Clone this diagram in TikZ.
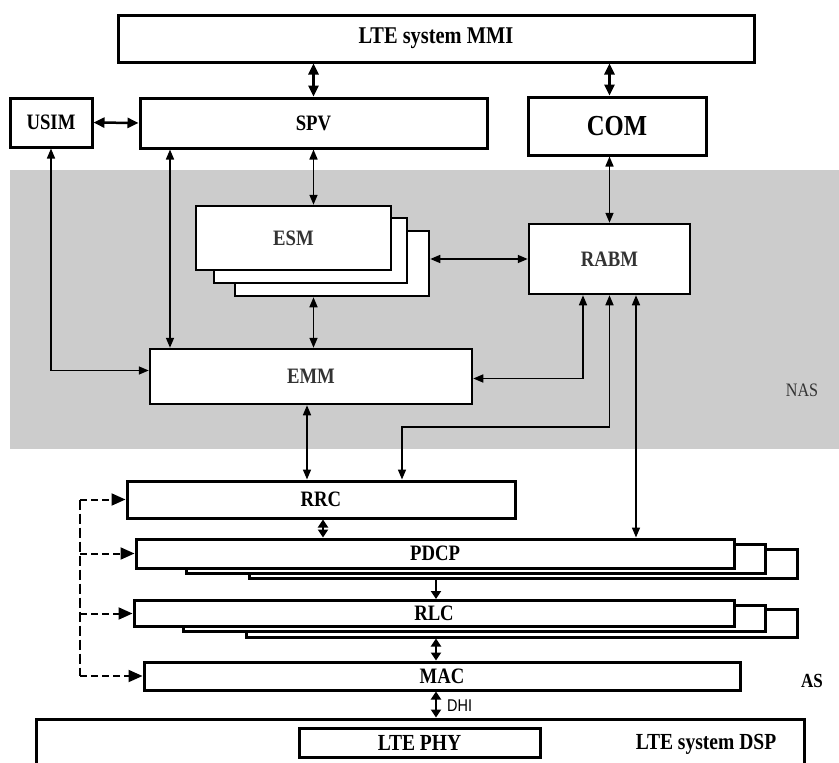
\documentclass[tikz,border=0pt]{standalone}
\usepackage{fontspec}
\setmainfont[FakeStretch=0.85]{Liberation Serif}
\setsansfont[FakeStretch=0.85]{Liberation Sans}
\usetikzlibrary{arrows.meta,calc}
\definecolor{nasgray}{RGB}{204,204,204}
\begin{document}
\begin{tikzpicture}[x=1pt,y=-1pt,
  blk/.style={draw, line width=3pt, fill=white, inner sep=0pt, font=\bfseries\fontsize{22}{25}\selectfont},
  nasblk/.style={blk, line width=2.5pt, text=black!80},
  thk/.style={line width=2.5pt, {Triangle[length=11pt,width=10pt]}-{Triangle[length=11pt,width=10pt]}},
  shortarr/.style={line width=2.5pt, {Triangle[length=8pt,width=10pt]}-{Triangle[length=8pt,width=10pt]}},
  onearr/.style={line width=2.5pt, -{Triangle[length=8pt,width=10pt]}},
  thn/.style={line width=1.6pt, {Triangle[length=10pt,width=8pt]}-{Triangle[length=10pt,width=8pt]}},
  dsh/.style={line width=2pt, dash pattern=on 7pt off 4pt},
  vdsh/.style={line width=1.8pt, dash pattern=on 10pt off 4pt},
  dsharr/.style={dsh, -{Triangle[length=14pt,width=12pt]}},
  lbl/.style={inner sep=0pt, font=\bfseries\fontsize{20}{23}\selectfont},
]
\useasboundingbox (0,0) rectangle (839,763);
\clip (0,0) rectangle (839,763);
% NAS band
\fill[nasgray] (10,170) rectangle (839,449);
\node[lbl, font=\fontsize{19}{22}\selectfont, text=black!80] (nas) at (802,390) {NAS};
\node[lbl] (as) at (812,681) {AS};

% top boxes
\node[blk, minimum width=636pt, minimum height=47pt, font=\bfseries\fontsize{24}{27}\selectfont] (mmi) at (436,38.5) {LTE system MMI};
\node[blk, minimum width=82pt, minimum height=49pt] (usim) at (51,122.5) {USIM};
\node[blk, minimum width=347pt, minimum height=50pt] (spv) at (313.5,123) {SPV};
\node[blk, minimum width=178pt, minimum height=58pt, font=\bfseries\fontsize{29}{32}\selectfont] (com) at (617,126) {COM};

% NAS boxes
\node[nasblk, minimum width=194pt, minimum height=65pt] (esm3) at (332,263.5) {};
\node[nasblk, minimum width=193pt, minimum height=65pt] (esm2) at (310.5,250.5) {};
\node[nasblk, minimum width=195pt, minimum height=64pt] (esm1) at (293.5,238) {ESM};
\node[nasblk, minimum width=161pt, minimum height=70pt] (rabm) at (609.5,259) {RABM};
\node[nasblk, minimum width=322pt, minimum height=55pt] (emm) at (311,376.5) {EMM};

% AS boxes
\node[blk, minimum width=388pt, minimum height=37pt] (rrc) at (321,499.5) {RRC};
\node[blk, minimum width=548pt, minimum height=29pt] (pdcp3) at (523,563.5) {};
\node[blk, minimum width=579pt, minimum height=29pt] (pdcp2) at (475.5,558.5) {};
\node[blk, minimum width=598pt, minimum height=29pt] (pdcp1) at (435,553.5) {PDCP};
\node[blk, minimum width=551pt, minimum height=28pt] (rlc3) at (521.5,623) {};
\node[blk, minimum width=582pt, minimum height=26pt] (rlc2) at (474,618.5) {};
\node[blk, minimum width=600pt, minimum height=26pt] (rlc1) at (434,613.5) {RLC};
\node[blk, minimum width=596pt, minimum height=28pt] (mac) at (442,676) {MAC};
\node[blk, minimum width=768pt, minimum height=56pt] (dsp) at (420,747) {};
\node[blk, minimum width=241pt, minimum height=29pt, font=\bfseries\fontsize{23}{26}\selectfont] (phy) at (419.5,742.5) {LTE PHY};
\node[lbl, font=\bfseries\fontsize{23}{26}\selectfont] (dsplbl) at (706,744) {LTE system DSP};
\node[inner sep=0pt, anchor=west, font=\sffamily\fontsize{17}{19}\selectfont] (dhi) at (447,706) {DHI};

% connectors top
\draw[thk] (spv.north) -- (spv.north |- mmi.south);
\draw[thk] (rabm.north |- com.north) -- (rabm.north |- mmi.south);
\draw[thk] (usim.east) -- (spv.west);

% NAS connectors
\draw[thn] (spv.south) -- (spv.south |- esm1.north);
\draw[thn] (rabm.north) -- (rabm.north |- com.south);
\draw[thn] (usim.south) |- ([yshift=6pt]emm.west);
\draw[thn] (spv.south -| 170,0) -- (emm.north -| 170,0);
\draw[thn] (esm3.south -| spv.south) -- (emm.north -| spv.south);
\draw[thn] (esm3.east |- rabm.west) -- (rabm.west);
\draw[thn] ([yshift=-2pt]emm.east) -| (rabm.south -| 583,0);
\draw[thn] (rabm.south) |- (402,427) -- (rrc.north -| 402,0);
\draw[thn] (rabm.south -| 636,0) -- (pdcp1.north -| 636,0);
\draw[thn] (emm.south -| 307,0) -- (rrc.north -| 307,0);

% AS connectors
\draw[shortarr] (rrc.south -| 323,0) -- (pdcp1.north -| 323,0);
\draw[onearr] (pdcp3.south -| 436,0) -- (rlc1.north -| 436,0);
\draw[shortarr] (rlc3.south -| 436,0) -- (mac.north -| 436,0);
\draw[shortarr] (mac.south -| 436,0) -- (dsp.north -| 436,0);

% dashed control lines
\draw[vdsh] (rrc.west -| 80,0) -- (mac.west -| 80,0);
\draw[dsharr] (rrc.west -| 80,0) -- (rrc.west);
\draw[dsharr] (pdcp1.west -| 80,0) -- (pdcp1.west);
\draw[dsharr] (rlc1.west -| 80,0) -- (rlc1.west);
\draw[dsharr] (mac.west -| 80,0) -- (mac.west);
\end{tikzpicture}
\end{document}
